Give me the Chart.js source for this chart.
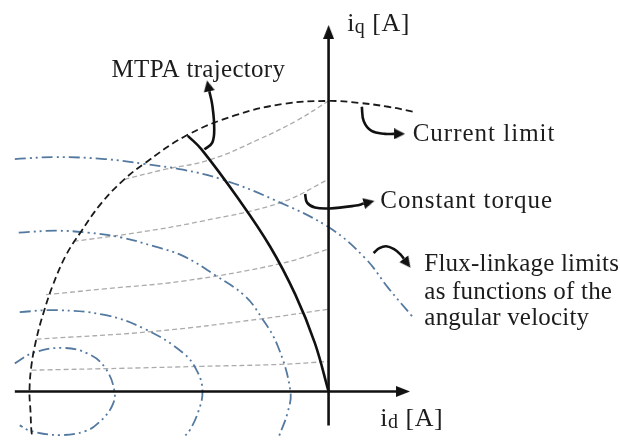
<!DOCTYPE html>
<html>
<head>
<meta charset="utf-8">
<script src="https://cdn.jsdelivr.net/npm/chart.js@4"></script>
<style>
  html, body { margin: 0; padding: 0; background: #ffffff; }
  canvas { display: block; }
</style>
</head>
<body>
<canvas id="chart" width="620" height="444"></canvas>
<script>
// d-q current plane, points are [id, iq]

const currentLimit = [[86,289],[61,294],[31,298],[0,300],[-46,297],[-96,285],[-146,264],[-189,235],[-209,219],[-232,195],[-254,164],[-269,140],[-282,110],[-292,80],[-299,54],[-304,27],[-306,0],[-305,-20],[-304,-41],[-303,-47]];

const mtpa = [[0,0],[-14,50],[-34,100],[-60,150],[-93,200],[-130,250],[-144,264]];

const torque1 = [[-209,219],[-169,229],[-122,239],[-72,260],[-32,280],[0,300]];
const torque2 = [[-261,155],[-196,164],[-129,176],[-49,195],[0,219]];
const torque3 = [[-289,100],[-229,106],[-149,114],[-49,132],[0,147]];
const torque4 = [[-299,54],[-179,62],[-69,75],[0,85]];
const torque5 = [[-304,22],[-209,24],[-129,26],[-49,28],[0,31]];

const flux1 = [[-321,240],[-279,242],[-229,240],[-189,235],[-149,229],[-109,219],[-56,198],[1,169],[38,137],[61,107],[86,77]];
const flux2 = [[-317,164],[-279,166],[-246,164],[-212,159],[-179,150],[-149,140],[-116,120],[-86,99],[-69,77],[-52,47],[-39,0],[-42,-22],[-51,-47]];
const flux3 = [[-316,82],[-279,84],[-229,79],[-189,65],[-149,40],[-134,20],[-129,0],[-133,-20],[-142,-40],[-148,-47]];
const flux4 = [[-321,29],[-302,40],[-272,45],[-246,39],[-229,25],[-219,0],[-222,-16],[-236,-33],[-249,-41],[-274,-45],[-304,-41],[-316,-35]];

const idAxis = [[-321,0],[69,0]];
const iqAxis = [[0,-35],[0,364]];

// callout arrows (last point carries the arrow head)
const arrowMtpa = [[-127,250],[-119,257],[-117,272],[-119,296],[-122,310]];
const arrowCurrent = [[34,294],[36,279],[44,269],[58,266],[67,266]];
const arrowTorque = [[-24,204],[-22,195],[-14,190],[1,189],[28,192],[36,194]];
const arrowFlux = [[46,143],[52,148],[59,150],[67,147],[74,141],[77,137]];

// text labels: [text, id, iq, letter spacing]
const labelTexts = [
  ['MTPA trajectory', -222, 325, 0.3],
  ['Current limit', 86, 259, 1],
  ['Constant torque', 53, 189, 0.9],
  ['Flux-linkage limits', 98, 124, 0.2],
  ['as functions of the', 98, 96, 0.2],
  ['angular velocity', 98, 69, 0.2]
];
// axis titles with subscripts
const axisTitles = [
  [['i', 0], ['q', 1], [' [A]', 0], 19, 372],
  [['i', 0], ['d', 1], [' [A]', 0], 53, -36]
];

const toXY = arr => arr.map(p => ({ x: p[0], y: p[1] }));

function headImage(len, width) {
  const c = document.createElement('canvas');
  c.width = width;
  c.height = len * 2;
  const g = c.getContext('2d');
  g.fillStyle = '#111';
  g.beginPath();
  g.moveTo(width / 2, 0);
  g.lineTo(width, len);
  g.lineTo(0, len);
  g.closePath();
  g.fill();
  return c;
}
const axisHead = headImage(14, 11);
const calloutHead = headImage(11, 11);

function headAngle(path) {
  const a = path[path.length - 2], b = path[path.length - 1];
  return Math.atan2(b[0] - a[0], b[1] - a[1]) * 180 / Math.PI;
}
const lastPt = path => path[path.length - 1];

const headPaths = [idAxis, iqAxis, arrowMtpa, arrowCurrent, arrowTorque, arrowFlux];
const heads = headPaths.map(lastPt);
const headStyles = [axisHead, axisHead, calloutHead, calloutHead, calloutHead, calloutHead];
const headRotations = headPaths.map(headAngle);

const curve = (data, color, width, dash, order, tension) => ({
  data: toXY(data),
  showLine: true,
  borderColor: color,
  borderWidth: width,
  borderDash: dash,
  pointRadius: 0,
  tension: tension,
  fill: false,
  order: order
});

const torqueColor = '#ababab';
const fluxColor = '#5479a0';
const fluxDash = [11, 4, 2, 4, 2, 4];

const labelPlugin = {
  id: 'diagramLabels',
  afterDatasetsDraw(chart) {
    const { ctx, scales } = chart;
    const sx = scales.x, sy = scales.y;
    ctx.save();
    ctx.fillStyle = '#1c1c1c';
    ctx.textBaseline = 'alphabetic';
    ctx.textAlign = 'left';
    ctx.font = '25px "Liberation Serif", serif';
    labelTexts.forEach(([t, px, py, ls]) => {
      ctx.letterSpacing = ls + 'px';
      ctx.fillText(t, sx.getPixelForValue(px), sy.getPixelForValue(py));
    });
    ctx.letterSpacing = '0.5px';
    axisTitles.forEach(item => {
      let x = sx.getPixelForValue(item[3]);
      const y = sy.getPixelForValue(item[4]);
      for (let i = 0; i < 3; i++) {
        const [t, sub] = item[i];
        ctx.font = (sub ? '20px' : '26px') + ' "Liberation Serif", serif';
        ctx.fillText(t, x, y + (sub ? 2 : 0));
        x += ctx.measureText(t).width;
      }
    });
    ctx.restore();
  }
};

new Chart(document.getElementById('chart'), {
  type: 'scatter',
  data: {
    datasets: [
      curve(torque1, torqueColor, 1.3, [5, 3], 9, 0.4),
      curve(torque2, torqueColor, 1.3, [5, 3], 9, 0.4),
      curve(torque3, torqueColor, 1.3, [5, 3], 9, 0.4),
      curve(torque4, torqueColor, 1.3, [5, 3], 9, 0.4),
      curve(torque5, torqueColor, 1.3, [5, 3], 9, 0.4),
      curve(flux1, fluxColor, 1.8, fluxDash, 8, 0.4),
      curve(flux2, fluxColor, 1.8, fluxDash, 8, 0.4),
      curve(flux3, fluxColor, 1.8, fluxDash, 8, 0.4),
      curve(flux4, fluxColor, 1.8, fluxDash, 8, 0.4),
      curve(currentLimit, '#1a1a1a', 1.8, [7, 4], 7, 0.4),
      curve(mtpa, '#111111', 2.6, [], 6, 0.4),
      curve(idAxis, '#111111', 2.6, [], 5, 0),
      curve(iqAxis, '#111111', 2.6, [], 5, 0),
      curve(arrowMtpa, '#111111', 2.6, [], 4, 0.4),
      curve(arrowCurrent, '#111111', 2.6, [], 4, 0.4),
      curve(arrowTorque, '#111111', 2.6, [], 4, 0.4),
      curve(arrowFlux, '#111111', 2.6, [], 4, 0.4),
      {
        data: toXY(heads),
        showLine: false,
        pointStyle: headStyles,
        pointRotation: headRotations,
        pointRadius: 6,
        order: 1
      }
    ]
  },
  options: {
    responsive: false,
    animation: false,
    events: [],
    layout: { padding: 0 },
    plugins: {
      legend: { display: false },
      tooltip: { enabled: false }
    },
    scales: {
      x: { type: 'linear', min: -329, max: 291, display: false },
      y: { type: 'linear', min: -47, max: 397, display: false }
    }
  },
  plugins: [labelPlugin]
});
</script>
</body>
</html>
